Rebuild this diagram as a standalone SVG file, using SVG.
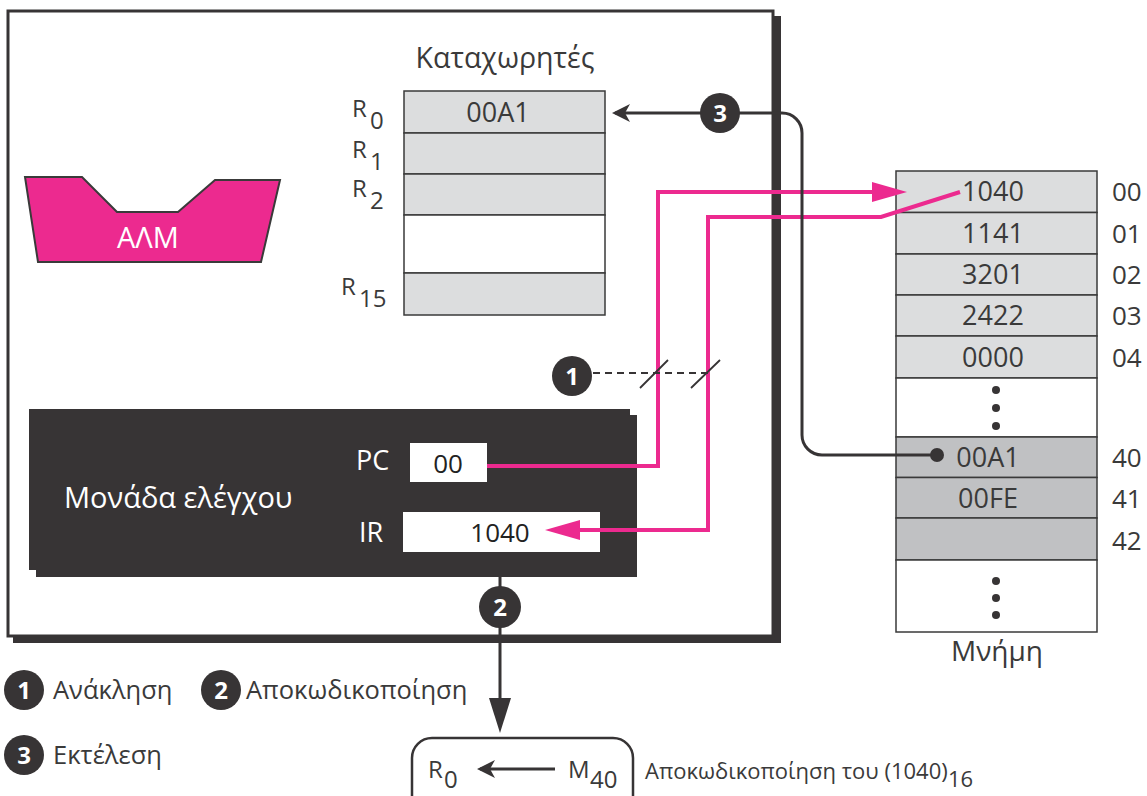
<svg xmlns="http://www.w3.org/2000/svg" width="1147" height="796" viewBox="0 0 1147 796">
<style>
.t{font-family:"Open Sans","DejaVu Sans",sans-serif;fill:#3a3a3a;font-size:26px}
.v{font-size:27px}
.w{fill:#ffffff}
.c{text-anchor:middle}
.num{font-family:"Open Sans","DejaVu Sans",sans-serif;font-weight:bold;font-size:24px;fill:#ffffff;text-anchor:middle}
.cell{fill:#dcddde;stroke:#3a3a3a;stroke-width:1.5}
.cell2{fill:#c0c1c3;stroke:#3a3a3a;stroke-width:1.5}
.blank{fill:#ffffff;stroke:#3a3a3a;stroke-width:1.5}
.badge{fill:#373435}
.mag{fill:none;stroke:#ec2a8f;stroke-width:4}
.dk{fill:none;stroke:#373435;stroke-width:3}
.dot{fill:#373435}
.rl{font-size:24px}
.lg{font-size:25.5px}
.ft{font-size:22px}
</style>
<defs>
<marker id="magArrow" markerUnits="userSpaceOnUse" markerWidth="36" markerHeight="22" refX="27" refY="10" orient="auto">
<path d="M0,0 L35,10 L0,20 z" fill="#ec2a8f"/>
</marker>
<marker id="stealth" markerUnits="userSpaceOnUse" markerWidth="20" markerHeight="20" refX="15" refY="9" orient="auto">
<path d="M0,0 L18,9 L0,18 L5,9 z" fill="#373435"/>
</marker>
<marker id="tri" markerUnits="userSpaceOnUse" markerWidth="36" markerHeight="24" refX="27" refY="11" orient="auto">
<path d="M0,0 L35,11 L0,22 z" fill="#373435"/>
</marker>
</defs>

<g id="cpu">
<rect x="13" y="16" width="768" height="627" fill="#373435"/>
<rect x="8" y="11" width="765" height="625" fill="#ffffff" stroke="#373435" stroke-width="3"/>
</g>

<g id="alu">
<polygon points="25,177 82,177 117,212 178,212 215,180 280,180 261,262 38,262" fill="#ec2a8f" stroke="#3a3a3a" stroke-width="2"/>
<text class="t w c" x="148" y="248" style="font-size:29px">ΑΛΜ</text>
</g>

<g id="registers">
<text class="t c" x="505" y="68" style="font-size:28.5px">Καταχωρητές</text>
<rect class="cell" x="404" y="91" width="201" height="42"/>
<rect class="cell" x="404" y="133" width="201" height="41"/>
<rect class="cell" x="404" y="174" width="201" height="41"/>
<rect class="blank" x="404" y="215" width="201" height="58"/>
<rect class="cell" x="404" y="273" width="201" height="42"/>
<text class="t v c" x="498" y="122">00A1</text>
<text class="t rl" x="352" y="117">R</text><text class="t rl" x="370" y="129">0</text>
<text class="t rl" x="352" y="158">R</text><text class="t rl" x="370" y="170">1</text>
<text class="t rl" x="352" y="197">R</text><text class="t rl" x="370" y="209">2</text>
<text class="t rl" x="341" y="295">R</text><text class="t rl" x="359" y="307">15</text>
</g>

<g id="memory">
<rect class="cell" x="896" y="171" width="201" height="41.5"/>
<rect class="cell" x="896" y="212.5" width="201" height="41.5"/>
<rect class="cell" x="896" y="254" width="201" height="41"/>
<rect class="cell" x="896" y="295" width="201" height="41"/>
<rect class="cell" x="896" y="336" width="201" height="42"/>
<rect class="blank" x="896" y="378" width="201" height="59"/>
<rect class="cell2" x="896" y="437" width="201" height="40.5"/>
<rect class="cell2" x="896" y="477.5" width="201" height="40.5"/>
<rect class="cell2" x="896" y="518" width="201" height="42"/>
<rect class="blank" x="896" y="560" width="201" height="72"/>
<text class="t v c" x="993" y="201">1040</text>
<text class="t v c" x="993" y="243">1141</text>
<text class="t v c" x="993" y="284">3201</text>
<text class="t v c" x="993" y="325">2422</text>
<text class="t v c" x="993" y="367">0000</text>
<text class="t v c" x="988" y="467">00A1</text>
<text class="t v c" x="988" y="508">00FE</text>
<circle class="dot" cx="996" cy="390" r="4"/>
<circle class="dot" cx="996" cy="408" r="4"/>
<circle class="dot" cx="996" cy="426" r="4"/>
<circle class="dot" cx="996" cy="581" r="4"/>
<circle class="dot" cx="996" cy="598" r="4"/>
<circle class="dot" cx="996" cy="615" r="4"/>
<text class="t" x="1112" y="201">00</text>
<text class="t" x="1112" y="243">01</text>
<text class="t" x="1112" y="284">02</text>
<text class="t" x="1112" y="325">03</text>
<text class="t" x="1112" y="367">04</text>
<text class="t" x="1112" y="467">40</text>
<text class="t" x="1112" y="508">41</text>
<text class="t" x="1112" y="550">42</text>
<text class="t c" x="997" y="661" style="font-size:28px">Μνήμη</text>
</g>

<g id="control-unit">
<rect x="36" y="415" width="601" height="162" fill="#373435"/>
<rect x="29" y="409" width="601" height="161" fill="#373435"/>
<text class="t w" x="64" y="508" style="font-size:29px">Μονάδα ελέγχου</text>
<text class="t w" x="356" y="470" style="font-size:27px">PC</text>
<text class="t w" x="359" y="542" style="font-size:27px">IR</text>
<rect x="410" y="443" width="77" height="39" fill="#ffffff"/>
<rect x="403" y="512" width="197" height="40" fill="#ffffff"/>
<text class="t c" x="448" y="473" style="fill:#222">00</text>
<text class="t c" x="500" y="542" style="fill:#222">1040</text>
</g>

<g id="connectors">
<path class="mag" d="M487,466 H658 V192 H899" marker-end="url(#magArrow)"/>
<path class="mag" d="M960,192 L881,217 H708 V530 H553" marker-end="url(#magArrow)"/>
<path class="dk" d="M937,455 H822 A20,20 0 0 1 802,435 V133 A20,20 0 0 0 782,113 H615" marker-end="url(#stealth)"/>
<circle class="dot" cx="937" cy="455" r="7"/>
<path d="M593,373 H712" fill="none" stroke="#373435" stroke-width="1.8" stroke-dasharray="7 5"/>
<path d="M640,388 L668,360 M691,388 L720,360" fill="none" stroke="#373435" stroke-width="1.8"/>
<path class="dk" d="M500,577 V725" marker-end="url(#tri)"/>
</g>

<g id="step1">
<circle class="badge" cx="572" cy="376" r="20"/>
<text class="num" x="572" y="385">1</text>
</g>
<g id="step2">
<circle class="badge" cx="500" cy="607" r="21"/>
<text class="num" x="500" y="616">2</text>
</g>
<g id="step3">
<circle class="badge" cx="720" cy="113" r="20"/>
<text class="num" x="720" y="122">3</text>
</g>

<g id="result">
<rect x="412" y="738" width="221" height="80" rx="20" fill="none" stroke="#373435" stroke-width="2.5"/>
<path class="dk" d="M555,769 H480" marker-end="url(#stealth)"/>
<text class="t rl" x="428" y="778">R</text><text class="t rl" x="444" y="788">0</text>
<text class="t rl" x="568" y="778">M</text><text class="t rl" x="590" y="788">40</text>
<text class="t ft" x="645" y="779">Αποκωδικοποίηση του (1040)</text>
<text class="t ft" x="948" y="787">16</text>
</g>

<g id="legend">
<circle class="badge" cx="24" cy="690" r="20"/><text class="num" x="24" y="699">1</text>
<text class="t lg" x="53" y="699">Ανάκληση</text>
<circle class="badge" cx="221" cy="690" r="20"/><text class="num" x="221" y="699">2</text>
<text class="t lg" x="246" y="699">Αποκωδικοποίηση</text>
<circle class="badge" cx="24" cy="755" r="20"/><text class="num" x="24" y="764">3</text>
<text class="t lg" x="53" y="764">Εκτέλεση</text>
</g>
</svg>
